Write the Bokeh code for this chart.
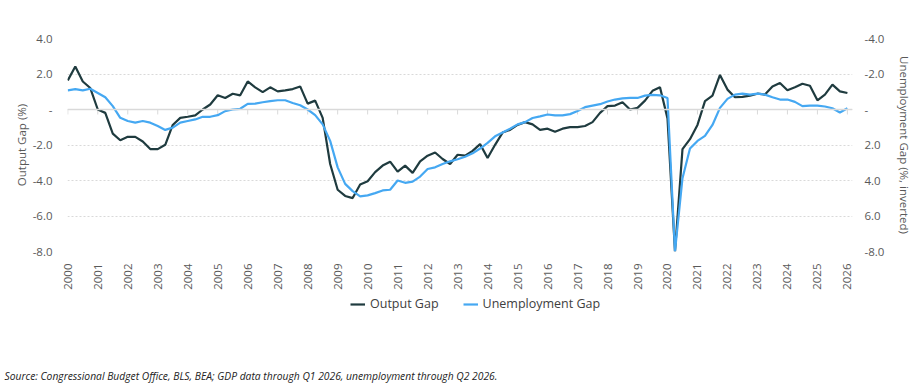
from bokeh.plotting import figure
from bokeh.models import (Range1d, LinearAxis, FixedTicker,
                          Span, Legend, LegendItem, Title)
from bokeh.layouts import column
from bokeh.embed import file_html
from bokeh.resources import INLINE
import math

# ---- data (quarterly, 2000Q1 .. 2026Q1) ----
start_year = 2000
output_gap = [
    1.64, 2.42, 1.58, 1.21,
    0.00, -0.19, -1.36, -1.73,
    -1.54, -1.54, -1.80, -2.23,
    -2.23, -1.99, -0.87, -0.47,
    -0.41, -0.33, 0.00, 0.28,
    0.80, 0.65, 0.89, 0.80,
    1.58, 1.25, 0.98, 1.25,
    1.02, 1.08, 1.15, 1.30,
    0.33, 0.50, -0.47, -3.07,
    -4.52, -4.87, -4.99, -4.22,
    -4.04, -3.53, -3.16, -2.94,
    -3.50, -3.16, -3.57, -2.92,
    -2.60, -2.42, -2.79, -3.07,
    -2.55, -2.60, -2.33, -1.95,
    -2.73, -1.99, -1.30, -1.15,
    -0.87, -0.71, -0.84, -1.15,
    -1.08, -1.25, -1.08, -0.99,
    -0.99, -0.93, -0.71, -0.19,
    0.19, 0.22, 0.41, 0.00,
    0.09, 0.50, 1.05, 1.25,
    -0.50, -8.00, -2.23, -1.67,
    -0.87, 0.47, 0.78, 1.95,
    1.12, 0.69, 0.71, 0.78,
    0.89, 0.84, 1.30, 1.49,
    1.08, 1.25, 1.45, 1.34,
    0.52, 0.84, 1.40, 1.02,
    0.93,
]
unemployment_gap = [
    -1.08, -1.15, -1.08, -1.17,
    -0.93, -0.69, -0.19, 0.47,
    0.65, 0.74, 0.65, 0.74,
    0.93, 1.15, 1.02, 0.74,
    0.65, 0.56, 0.41, 0.41,
    0.32, 0.09, 0.00, -0.04,
    -0.32, -0.33, -0.41, -0.47,
    -0.52, -0.52, -0.37, -0.24,
    0.00, 0.32, 0.84, 1.77,
    3.26, 4.19, 4.60, 4.89,
    4.84, 4.71, 4.56, 4.52,
    4.00, 4.13, 4.06, 3.78,
    3.35, 3.26, 3.07, 2.92,
    2.80, 2.66, 2.47, 2.20,
    1.88, 1.51, 1.30, 1.08,
    0.84, 0.71, 0.48, 0.39,
    0.28, 0.33, 0.33, 0.26,
    0.09, -0.13, -0.22, -0.30,
    -0.45, -0.56, -0.63, -0.65,
    -0.65, -0.78, -0.82, -0.80,
    -0.65, 8.00, 3.87, 2.20,
    1.77, 1.49, 0.87, -0.09,
    -0.60, -0.84, -0.89, -0.84,
    -0.89, -0.84, -0.69, -0.56,
    -0.56, -0.43, -0.19, -0.22,
    -0.22, -0.17, -0.07, 0.17,
    -0.07,
]
year_ticks = list(range(2000, 2027))
left_ticks = [-8, -6, -4, -2, 0, 2, 4]
left_labels = ["-8.0", "-6.0", "-4.0", "-2.0", "-", "2.0", "4.0"]
right_ticks = [-4, -2, 0, 2, 4, 6, 8]
right_labels = ["-4.0", "-2.0", "-", "2.0", "4.0", "6.0", "-8.0"]
series_names = ["Output Gap", "Unemployment Gap"]
source_text = "Source: Congressional Budget Office, BLS, BEA; GDP data through Q1 2026, unemployment through Q2 2026."

x = [start_year + i / 4 for i in range(len(output_gap))]
xu = [start_year + i / 4 for i in range(len(unemployment_gap))]

FONT = "Open Sans"
GRAY = "#595959"
DARK = "#1f3b3f"
BLUE = "#45a8f2"

# ---------------- main chart ----------------
p = figure(frame_width=785, frame_height=213, output_backend="svg", toolbar_location=None,
           x_range=Range1d(1999.99, 2026.17), y_range=Range1d(-8, 4),
           min_border_left=67, min_border_right=66, min_border_top=38,
           min_border_bottom=0)
p.outline_line_color = None
p.background_fill_color = "white"
p.border_fill_color = "white"

p.extra_y_ranges = {"u": Range1d(start=8, end=-4)}

p.xgrid.grid_line_color = None
p.ygrid.ticker = FixedTicker(ticks=left_ticks)
p.ygrid.grid_line_color = "#d9d9d9"
p.ygrid.grid_line_dash = "2 2"
p.ygrid.grid_line_width = 1
p.add_layout(Span(location=0, dimension="width", line_color="#d9d9d9", line_width=1.5))
p.segment(x0=year_ticks, y0=[0] * len(year_ticks), x1=year_ticks,
          y1=[-0.28] * len(year_ticks), line_color="#d9d9d9", line_width=1)

p.line(x, output_gap, line_color=DARK, line_width=2.2)
p.line(xu, unemployment_gap, line_color=BLUE, line_width=2.2, y_range_name="u")

xa = p.xaxis[0]
xa.ticker = FixedTicker(ticks=year_ticks)
xa.major_label_orientation = math.pi / 2
xa.axis_line_color = None
xa.major_tick_line_color = None
xa.minor_tick_line_color = None
xa.major_label_standoff = 6
xa.major_label_text_font = FONT
xa.major_label_text_font_size = "11.5px"
xa.major_label_text_color = GRAY

ya = p.yaxis[0]
ya.ticker = FixedTicker(ticks=left_ticks)
ya.major_label_overrides = {t: s for t, s in zip(left_ticks, left_labels)}
ya.axis_label = "Output Gap (%)"

ra = LinearAxis(y_range_name="u", axis_label="Unemployment Gap (%, inverted)")
ra.ticker = FixedTicker(ticks=right_ticks)
ra.major_label_overrides = {t: s for t, s in zip(right_ticks, right_labels)}
p.add_layout(ra, "right")

for ax in (ya, ra):
    ax.axis_line_color = None
    ax.major_tick_line_color = None
    ax.minor_tick_line_color = None
    ax.major_label_text_font = FONT
    ax.major_label_text_font_size = "11.5px"
    ax.major_label_text_color = GRAY
    ax.axis_label_text_font = FONT
    ax.axis_label_text_font_size = "11.5px"
    ax.axis_label_text_color = GRAY
    ax.axis_label_text_font_style = "normal"
ya.major_label_standoff = 9
ya.axis_label_standoff = 1
ra.major_label_standoff = 6
ra.axis_label_standoff = 10

# ---------------- legend + source strip ----------------
H2 = 94
q = figure(width=918, height=H2, output_backend="svg", toolbar_location=None,
           x_range=Range1d(0, 1), y_range=Range1d(0, 1),
           x_axis_type=None, y_axis_type=None, min_border=0,
           min_border_bottom=22)
q.outline_line_color = None
q.grid.visible = False
q.background_fill_color = "white"
q.border_fill_color = "white"
# legend keys: same series, outside this strip's visible range
k_out = q.line(x, output_gap, line_color=DARK, line_width=2.2)
k_un = q.line(xu, unemployment_gap, line_color=BLUE, line_width=2.2)

legend = Legend(items=[LegendItem(label=series_names[0], renderers=[k_out]),
                       LegendItem(label=series_names[1], renderers=[k_un])],
                orientation="horizontal", location=(283, H2 - 22 - 16 - 4),
                border_line_color=None, background_fill_alpha=0,
                label_text_font=FONT, label_text_font_size="12.5px",
                label_text_color="#404040", glyph_width=15, glyph_height=12,
                label_height=12, label_standoff=5, spacing=24, margin=0, padding=2)
q.add_layout(legend, "center")

src = Title(text=source_text, align="left", text_font=FONT, text_font_size="10.3px",
            text_font_style="italic", text_color="#222222", offset=-63, standoff=4)
q.add_layout(src, "below")

layout = column(p, q, spacing=0)
open("out.html", "w").write(file_html(layout, INLINE))
